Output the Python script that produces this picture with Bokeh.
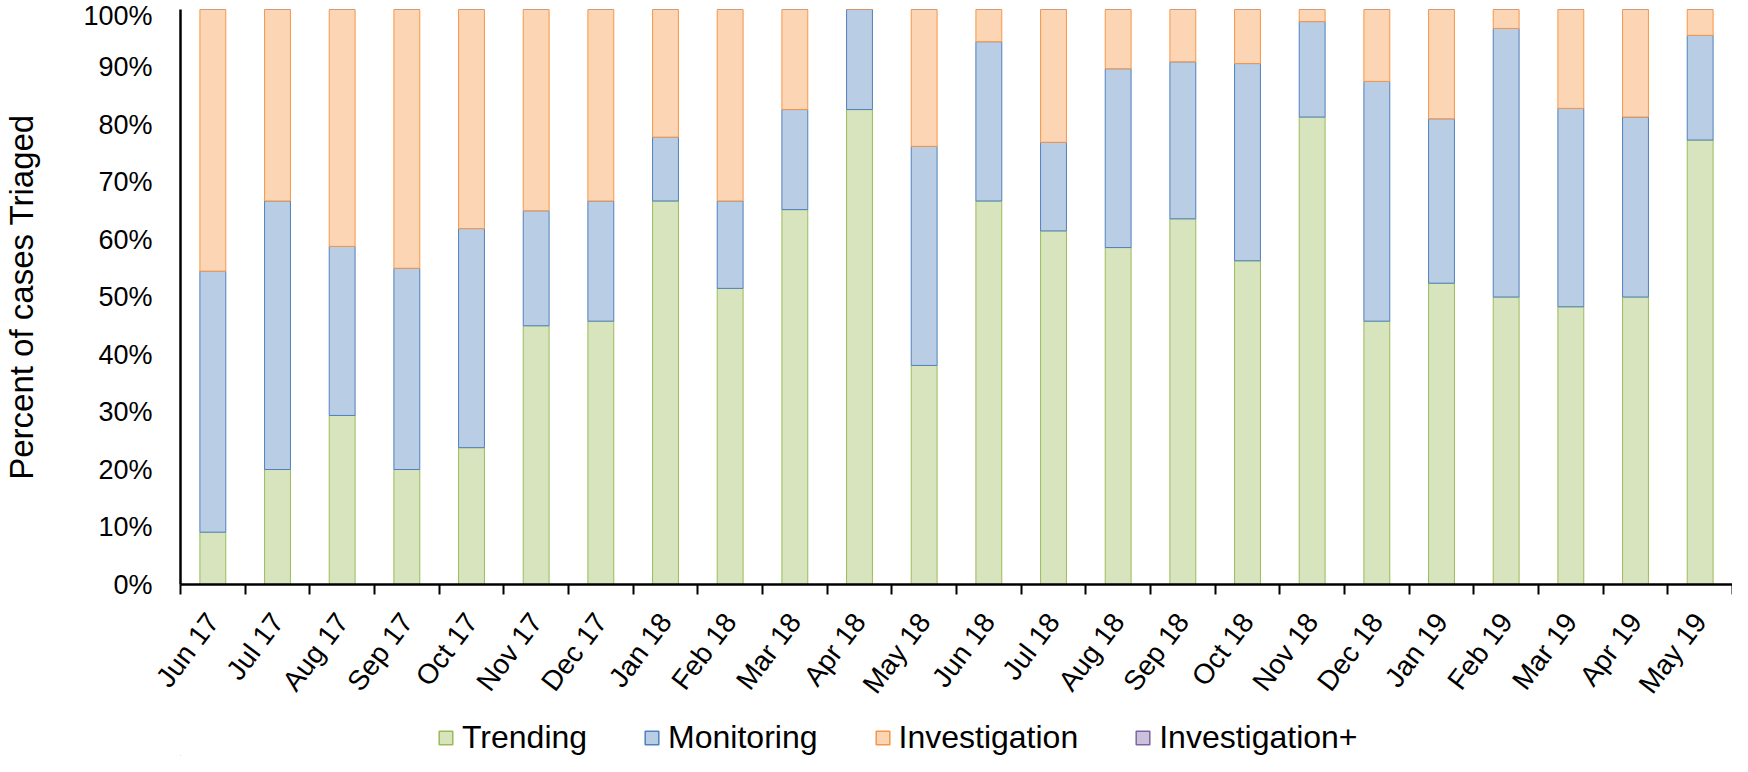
from bokeh.plotting import figure
from bokeh.layouts import column
from bokeh.models import (ColumnDataSource, Range1d, FixedTicker, Legend, LegendItem)
from bokeh.embed import file_html
from bokeh.resources import INLINE

months = ["Jun 17", "Jul 17", "Aug 17", "Sep 17", "Oct 17", "Nov 17", "Dec 17",
          "Jan 18", "Feb 18", "Mar 18", "Apr 18", "May 18", "Jun 18", "Jul 18",
          "Aug 18", "Sep 18", "Oct 18", "Nov 18", "Dec 18", "Jan 19", "Feb 19",
          "Mar 19", "Apr 19", "May 19"]
trending = [9.1, 20.0, 29.4, 20.0, 23.8, 45.0, 45.8, 66.7, 51.5, 65.2, 82.6, 38.1,
            66.7, 61.5, 58.6, 63.6, 56.3, 81.3, 45.8, 52.4, 50.0, 48.3, 50.0, 77.3]
monitoring = [45.4, 46.7, 29.4, 35.0, 38.1, 20.0, 20.9, 11.1, 15.2, 17.4, 17.4, 38.1,
              27.7, 15.4, 31.1, 27.3, 34.3, 16.6, 41.7, 28.6, 46.7, 34.5, 31.3, 18.2]
investigation = [45.5, 33.3, 41.2, 45.0, 38.1, 35.0, 33.3, 22.2, 33.3, 17.4, 0.0, 23.8,
                 5.6, 23.1, 10.3, 9.1, 9.4, 2.1, 12.5, 19.0, 3.3, 17.2, 18.7, 4.5]
investigation_plus = [0.0] * 24
y_ticks = [0, 10, 20, 30, 40, 50, 60, 70, 80, 90, 100]

series_names = ["Trending", "Monitoring", "Investigation", "Investigation+"]
fills = ["#D7E4BD", "#B9CDE5", "#FCD5B5", "#CCC1DA"]
lines = ["#9BBB59", "#4F81BD", "#F79646", "#8064A2"]

n = len(months)
xs = [i + 0.5 for i in range(n)]
c1 = [a for a in trending]
c2 = [a + b for a, b in zip(c1, monitoring)]
c3 = [a + b for a, b in zip(c2, investigation)]
c4 = [a + b for a, b in zip(c3, investigation_plus)]
src = ColumnDataSource(dict(x=xs, b0=[0.0] * n, c1=c1, c2=c2, c3=c3, c4=c4))

FONT = "Liberation Sans"
W_TOTAL = 1732
LEFT = 180

p = figure(width=W_TOTAL, height=718, output_backend="svg", toolbar_location=None,
           x_range=Range1d(0, n), y_range=Range1d(0, 100),
           min_border_left=LEFT, min_border_right=0, min_border_top=9,
           min_border_bottom=134)
p.outline_line_color = None
p.xgrid.visible = False
p.ygrid.visible = False
p.background_fill_color = "white"
p.border_fill_color = "white"

W = 0.4
# Investigation+ drawn first so its zero-height segments stay hidden under the others
p.vbar(x="x", bottom="c3", top="c4", width=W, source=src,
       fill_color=fills[3], line_color=lines[3], line_width=1)
p.vbar(x="x", bottom="b0", top="c1", width=W, source=src,
       fill_color=fills[0], line_color=lines[0], line_width=1)
p.vbar(x="x", bottom="c1", top="c2", width=W, source=src,
       fill_color=fills[1], line_color=lines[1], line_width=1)
p.vbar(x="x", bottom="c2", top="c3", width=W, source=src,
       fill_color=fills[2], line_color=lines[2], line_width=1)

# x axis: labels at bar centres, tick marks between categories
xa = p.xaxis[0]
xa.ticker = FixedTicker(ticks=xs, minor_ticks=list(range(n + 1)))
xa.major_label_overrides = {x: m for x, m in zip(xs, months)}
xa.major_label_orientation = 0.925
xa.major_label_text_font = FONT
xa.major_label_text_font_size = "28px"
xa.major_label_text_color = "black"
xa.major_tick_in = 0
xa.major_tick_out = 0
xa.minor_tick_in = 0
xa.minor_tick_out = 10
xa.minor_tick_line_color = "black"
xa.minor_tick_line_width = 2
xa.axis_line_color = "black"
xa.axis_line_width = 2.5
xa.major_label_standoff = 22

# y axis
ya = p.yaxis[0]
ya.ticker = FixedTicker(ticks=y_ticks, minor_ticks=[])
ya.major_label_overrides = {t: f"{t}%" for t in y_ticks}
ya.major_label_text_font = FONT
ya.major_label_text_font_size = "27px"
ya.major_label_text_color = "black"
ya.major_tick_in = 0
ya.major_tick_out = 0
ya.minor_tick_line_color = None
ya.axis_line_color = "black"
ya.axis_line_width = 2.5
ya.major_label_standoff = 28
ya.axis_label = "Percent of cases Triaged"
ya.axis_label_text_font = FONT
ya.axis_label_text_font_size = "33px"
ya.axis_label_text_font_style = "normal"
ya.axis_label_text_color = "black"
ya.axis_label_standoff = 40

# legend strip below the chart
lg = figure(width=W_TOTAL, height=38, output_backend="svg", toolbar_location=None,
            x_range=Range1d(0, 1), y_range=Range1d(0, 1),
            x_axis_location=None, y_axis_location=None,
            min_border_left=LEFT, min_border_right=0, min_border_top=0,
            min_border_bottom=0)
lg.outline_line_color = None
lg.xgrid.visible = False
lg.ygrid.visible = False
lg.background_fill_color = "white"
lg.border_fill_color = "white"

items = []
for name, fc, lc in zip(series_names, fills, lines):
    r = lg.vbar(x=[-5.0], top=[-5.0], bottom=[-6.0], width=0.1,
                fill_color=fc, line_color=lc, line_width=1.5)
    items.append(LegendItem(label=name, renderers=[r]))

legend = Legend(items=items, orientation="horizontal", location=(257, 0),
                padding=0, margin=0, spacing=56, label_standoff=8,
                glyph_width=17, glyph_height=17,
                label_text_font=FONT, label_text_font_size="32px",
                label_text_color="black",
                border_line_color=None, background_fill_alpha=0)
lg.add_layout(legend, "center")

layout = column(p, lg, spacing=0)
open("out.html", "w").write(file_html(layout, INLINE))
